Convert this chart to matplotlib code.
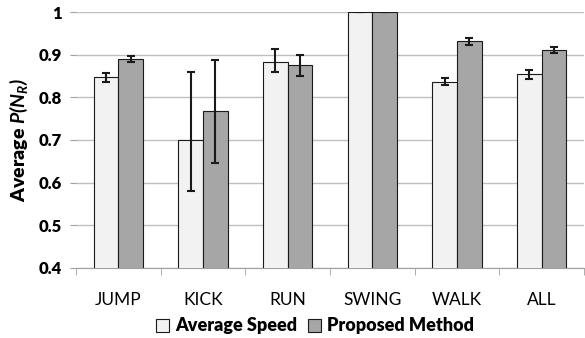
import matplotlib.pyplot as plt
import numpy as np

categories = ["JUMP", "KICK", "RUN", "SWING", "WALK", "ALL"]
avg_speed = [0.847, 0.700, 0.883, 1.000, 0.837, 0.854]
avg_speed_err_lo = [0.010, 0.120, 0.024, 0.0, 0.009, 0.010]
avg_speed_err_hi = [0.010, 0.160, 0.030, 0.0, 0.009, 0.010]
proposed = [0.890, 0.767, 0.875, 1.000, 0.931, 0.910]
proposed_err = [0.008, 0.120, 0.024, 0.0, 0.008, 0.007]

plt.rcParams['font.family'] = ['Lato', 'DejaVu Sans']
plt.rcParams['mathtext.fontset'] = 'custom'
plt.rcParams['mathtext.bfit'] = 'Lato:bold:italic'
plt.rcParams['mathtext.it'] = 'Lato:italic'

fig = plt.figure(figsize=(5.85, 3.38), dpi=100)
ax = fig.add_axes([76/585, 1-268/338, 508/585, 256/338])

x = np.arange(len(categories))
w = 0.29
ekw = dict(elinewidth=1.5, capthick=1.5, ecolor='#1a1a1a')
ax.bar(x - w/2, avg_speed, w, yerr=[avg_speed_err_lo, avg_speed_err_hi], capsize=3,
       color='#f2f2f2', edgecolor='#1a1a1a', linewidth=0.8,
       error_kw=ekw, label='Average Speed', zorder=3)
ax.bar(x + w/2, proposed, w, yerr=proposed_err, capsize=3,
       color='#a6a6a6', edgecolor='#1a1a1a', linewidth=0.8,
       error_kw=ekw, label='Proposed Method', zorder=3)

ax.set_ylim(0.4, 1.0)
ax.set_xlim(-0.5, len(categories) - 0.5)
ax.set_yticks(np.arange(0.4, 1.01, 0.1))
ax.set_yticklabels(["0.4", "0.5", "0.6", "0.7", "0.8", "0.9", "1"],
                   fontweight='heavy', fontsize=12)
ax.set_xticks(x)
ax.set_xticklabels(categories, fontsize=12.5)
ax.set_xticks(np.arange(-0.5, len(categories) + 0.5, 1), minor=True)
ax.tick_params(axis='x', which='major', length=0, pad=17)
ax.tick_params(axis='x', which='minor', length=5, color='#a0a0a0', direction='out')
ax.tick_params(axis='y', length=4, color='#a0a0a0', pad=6)
ax.grid(axis='y', color='#c0c0c0', linewidth=1, zorder=0)
for s in ['top', 'right', 'left']:
    ax.spines[s].set_visible(False)
ax.spines['bottom'].set_color('#a0a0a0')

ax.set_ylabel(r"Average $\mathbfit{P(N_R)}$", fontsize=14, fontweight='heavy', labelpad=6)

leg = ax.legend(loc='upper center', bbox_to_anchor=(0.47, -0.165), ncol=2, frameon=False,
                prop=dict(weight='heavy', size=13), handlelength=0.75, handleheight=0.75,
                handletextpad=0.3, columnspacing=0.6, borderaxespad=0)

fig.savefig("out.png", dpi=100)
